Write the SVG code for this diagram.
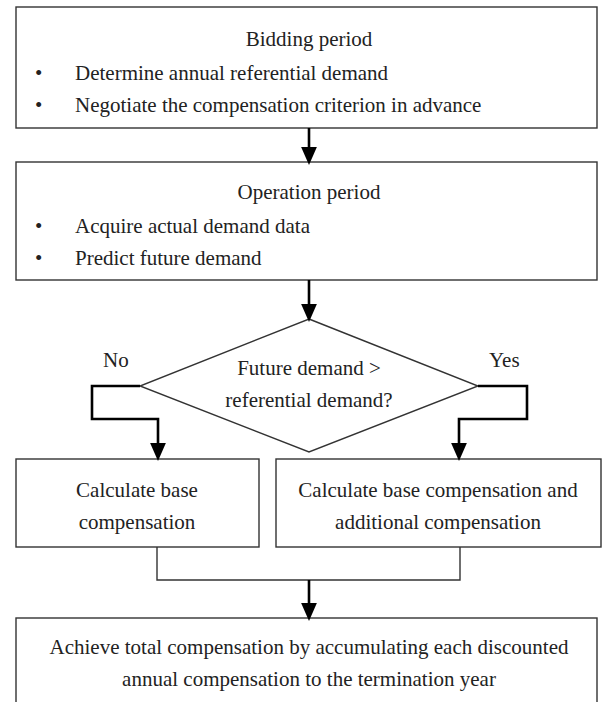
<svg xmlns="http://www.w3.org/2000/svg" width="613" height="702" viewBox="0 0 613 702">
<style>
.box{fill:#fff;stroke:#333;stroke-width:1.4}
.t{font-family:"Liberation Serif","Times New Roman",serif;font-size:21px;fill:#222}
.c{text-anchor:middle}
.thick{fill:none;stroke:#000;stroke-width:2.6}
.thin{fill:none;stroke:#333;stroke-width:1.4}
</style>
<defs>
<marker id="ah" markerUnits="userSpaceOnUse" markerWidth="18" markerHeight="16" refX="0" refY="7" orient="auto" viewBox="0 0 16 14">
<path d="M0,0 L16,7 L0,14 z" fill="#000"/>
</marker>
</defs>
<rect width="613" height="702" fill="#fff"/>
<g id="bidding">
<rect class="box" x="16" y="7" width="581" height="121"/>
<text class="t c" x="309" y="46">Bidding period</text>
<text class="t" x="35" y="80">•</text>
<text class="t" x="75" y="80">Determine annual referential demand</text>
<text class="t" x="35" y="112">•</text>
<text class="t" x="75" y="112">Negotiate the compensation criterion in advance</text>
</g>
<g id="operation">
<rect class="box" x="16" y="162" width="581" height="118"/>
<text class="t c" x="309" y="199">Operation period</text>
<text class="t" x="35" y="233">•</text>
<text class="t" x="75" y="233">Acquire actual demand data</text>
<text class="t" x="35" y="265">•</text>
<text class="t" x="75" y="265">Predict future demand</text>
</g>
<g id="decision">
<polygon class="box" points="309,319 478,386 309,452 140,386"/>
<text class="t c" x="309" y="375">Future demand &gt;</text>
<text class="t c" x="309" y="407">referential demand?</text>
</g>
<g id="base">
<rect class="box" x="16" y="459" width="243" height="88"/>
<text class="t c" x="137" y="497">Calculate base</text>
<text class="t c" x="137" y="529">compensation</text>
</g>
<g id="additional">
<rect class="box" x="276" y="459" width="325" height="88"/>
<text class="t c" x="438" y="497">Calculate base compensation and</text>
<text class="t c" x="438" y="529">additional compensation</text>
</g>
<g id="total">
<rect class="box" x="16" y="618" width="581" height="100"/>
<text class="t c" x="309" y="654">Achieve total compensation by accumulating each discounted</text>
<text class="t c" x="309" y="686">annual compensation to the termination year</text>
</g>
<g id="connectors">
<path class="thick" d="M309,128 V147" marker-end="url(#ah)"/>
<path class="thick" d="M309,280 V304" marker-end="url(#ah)"/>
<path class="thick" d="M140,386 H92 V419 H158 V443" marker-end="url(#ah)"/>
<path class="thick" d="M478,386 H527 V419 H459 V443" marker-end="url(#ah)"/>
<path class="thin" d="M157,547 V580 H460 V547"/>
<path class="thick" d="M309,580 V603" marker-end="url(#ah)"/>
<text class="t" x="103" y="367">No</text>
<text class="t" x="489" y="367">Yes</text>
</g>
</svg>
